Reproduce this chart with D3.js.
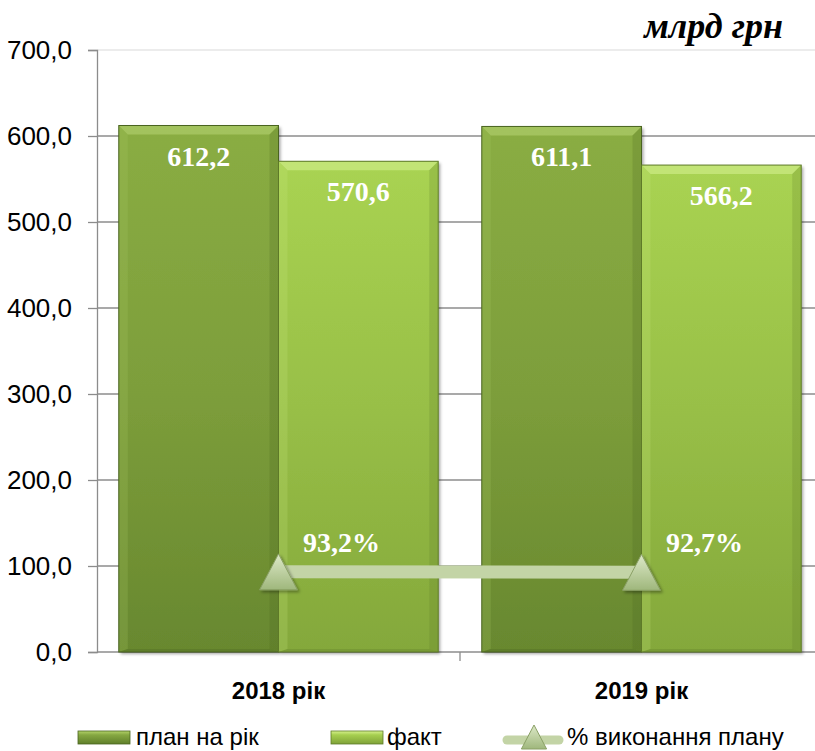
<!DOCTYPE html>
<html>
<head>
<meta charset="utf-8">
<script src="https://cdn.jsdelivr.net/npm/d3@7"></script>
<style>
  body { margin: 0; background: #fff; }
  svg { display: block; }
</style>
</head>
<body>
<svg id="chart" width="815" height="751"></svg>
<script>
// data
var years = ["2018 рік", "2019 рік"];
var planValues = [612.2, 611.1];
var factValues = [570.6, 566.2];
var pctValues = [93.2, 92.7];
var planLabels = ["612,2", "611,1"];
var factLabels = ["570,6", "566,2"];
var pctLabels = ["93,2%", "92,7%"];
var yTicks = [0, 100, 200, 300, 400, 500, 600, 700];
var seriesNames = ["план на рік", "факт", "% виконання плану"];

var svg = d3.select('#chart');
var plotLeft = 97, plotRight = 823, plotTop = 50, plotBottom = 652;

var x = d3.scaleBand().domain(years).range([plotLeft, plotRight]).paddingInner(0.12).paddingOuter(0.06);
var y = d3.scaleLinear().domain([0, 700]).range([plotBottom, plotTop]);
var sub = d3.scaleBand().domain(["plan", "fact"]).range([0, x.bandwidth()]);

var defs = svg.append('defs');
function grad(id, stops){
    var g = defs.append('linearGradient').attr('id', id)
        .attr('x1', 0).attr('y1', 0).attr('x2', 0).attr('y2', 1);
    stops.forEach(function(s){ g.append('stop').attr('offset', s[0]).attr('stop-color', s[1]); });
}
grad('gPlan', [[0, '#8aad43'], [0.5, '#7d9e3b'], [1, '#68882f']]);
grad('gFact', [[0, '#a9d352'], [0.5, '#98bf47'], [1, '#84a83b']]);
grad('gPlanLeg', [[0, '#b4d36a'], [0.3, '#86a842'], [1, '#5f7f2a']]);
grad('gFactLeg', [[0, '#d8f28f'], [0.3, '#a6cf50'], [1, '#7fa238']]);
grad('gTri', [[0, '#dde9c8'], [1, '#9fb77c']]);
var sh = defs.append('filter').attr('id', 'shadow').attr('x', '-10%').attr('y', '-10%').attr('width', '130%').attr('height', '130%');
sh.append('feDropShadow').attr('dx', 2).attr('dy', 2).attr('stdDeviation', 1.5).attr('flood-color', '#000').attr('flood-opacity', 0.35);

// grid
svg.append('g').selectAll('line').data(yTicks.slice(1)).enter().append('line')
    .attr('x1', plotLeft).attr('x2', 815)
    .attr('y1', function(d){ return y(d); }).attr('y2', function(d){ return y(d); })
    .attr('stroke', function(d){ return d == 700 ? '#e6e6e6' : '#8c8c8c'; })
    .attr('stroke-width', 1.3);

// y axis
var yAxis = svg.append('g').attr('transform', 'translate(' + plotLeft + ',0)')
    .call(d3.axisLeft(y).tickValues(yTicks).tickSize(9).tickPadding(16)
        .tickFormat(function(d){ return d3.format('.1f')(d).replace('.', ','); }));
yAxis.select('.domain').attr('stroke', '#8c8c8c').attr('stroke-width', 1.3);
yAxis.selectAll('.tick line').attr('stroke', '#8c8c8c').attr('stroke-width', 1.3);
yAxis.selectAll('text').style('font-family', 'Liberation Sans, Arial, sans-serif')
    .style('font-size', '26px').attr('fill', '#000');

// x axis baseline
svg.append('line').attr('x1', plotLeft).attr('x2', 815).attr('y1', plotBottom).attr('y2', plotBottom)
    .attr('stroke', '#8c8c8c').attr('stroke-width', 1.3);
var sep = x(years[1]) - x.step() * x.paddingInner() / 2;
svg.append('line').attr('x1', sep).attr('x2', sep)
    .attr('y1', plotBottom).attr('y2', plotBottom + 9).attr('stroke', '#8c8c8c').attr('stroke-width', 1.3);

// bars
function drawBars(vals, key, fill, light, dark){
    var g = svg.append('g').selectAll('g').data(vals).enter().append('g')
        .attr('transform', function(d, i){ return 'translate(' + (x(years[i]) + sub(key)) + ',0)'; });
    var w = sub.bandwidth();
    g.append('rect').attr('x', 0).attr('y', function(d){ return y(d); })
        .attr('width', w).attr('height', function(d){ return plotBottom - y(d); })
        .attr('fill', fill).attr('filter', 'url(#shadow)');
    // bevel edges
    g.append('path').attr('d', function(d){
        var t = y(d);
        return 'M0,' + t + 'L' + w + ',' + t + 'L' + (w - 9) + ',' + (t + 9) + 'L9,' + (t + 9) + 'Z';
    }).attr('fill', light).attr('opacity', 0.8);
    g.append('path').attr('d', function(d){
        var t = y(d);
        return 'M0,' + t + 'L9,' + (t + 9) + 'L9,' + (plotBottom - 3) + 'L0,' + plotBottom + 'Z';
    }).attr('fill', light).attr('opacity', 0.22);
    g.append('path').attr('d', function(d){
        var t = y(d);
        return 'M' + w + ',' + t + 'L' + (w - 9) + ',' + (t + 9) + 'L' + (w - 9) + ',' + (plotBottom - 3) + 'L' + w + ',' + plotBottom + 'Z';
    }).attr('fill', dark).attr('opacity', 0.22);
    g.append('path').attr('d', function(){
        return 'M0,' + plotBottom + 'L9,' + (plotBottom - 3) + 'L' + (w - 9) + ',' + (plotBottom - 3) + 'L' + w + ',' + plotBottom + 'Z';
    }).attr('fill', dark).attr('opacity', 0.3);
    g.append('rect').attr('x', 0).attr('y', function(d){ return y(d); })
        .attr('width', w).attr('height', function(d){ return plotBottom - y(d); })
        .attr('fill', 'none').attr('stroke', dark).attr('stroke-width', 1);
}
drawBars(planValues, 'plan', 'url(#gPlan)', '#a9c865', '#4a6420');
drawBars(factValues, 'fact', 'url(#gFact)', '#c8e87f', '#5e7a28');

// bar labels
function barLabels(vals, labels, key){
    svg.append('g').selectAll('text').data(vals).enter().append('text')
        .attr('x', function(d, i){ return x(years[i]) + sub(key) + sub.bandwidth() / 2; })
        .attr('y', function(d){ return y(d) + 40; })
        .attr('text-anchor', 'middle')
        .style('font-family', 'Liberation Serif, Times New Roman, serif')
        .style('font-weight', 'bold').style('font-size', '28px').attr('fill', '#fff')
        .text(function(d, i){ return labels[i]; });
}
barLabels(planValues, planLabels, 'plan');
barLabels(factValues, factLabels, 'fact');

// percent line
function px(i){ return x(years[i]) + sub.bandwidth(); }
svg.append('path').datum(pctValues)
    .attr('d', d3.line().x(function(d, i){ return px(i); }).y(function(d){ return y(d); }))
    .attr('stroke', '#c3d4a6').attr('stroke-width', 13).attr('fill', 'none');
function tri(cx, cy, s){
    return 'M' + cx + ',' + (cy - s) + 'L' + (cx + s * 1.05) + ',' + (cy + s) + 'L' + (cx - s * 1.05) + ',' + (cy + s) + 'Z';
}
svg.append('g').selectAll('path').data(pctValues).enter().append('path')
    .attr('d', function(d, i){ return tri(px(i), y(d), 18); })
    .attr('fill', 'url(#gTri)').attr('stroke', '#8aa066').attr('stroke-width', 1)
    .attr('filter', 'url(#shadow)');
svg.append('g').selectAll('text').data(pctValues).enter().append('text')
    .attr('x', function(d, i){ return px(i) + 63; })
    .attr('y', function(d){ return y(d) - 20; })
    .attr('text-anchor', 'middle')
    .style('font-family', 'Liberation Serif, Times New Roman, serif')
    .style('font-weight', 'bold').style('font-size', '28px').attr('fill', '#fff')
    .text(function(d, i){ return pctLabels[i]; });

// category labels
svg.append('g').selectAll('text').data(years).enter().append('text')
    .attr('x', function(d){ return x(d) + x.bandwidth() / 2; })
    .attr('y', 699)
    .attr('text-anchor', 'middle')
    .style('font-family', 'Liberation Sans, Arial, sans-serif')
    .style('font-weight', 'bold').style('font-size', '24px')
    .text(function(d){ return d; });

// unit title
svg.append('text').attr('x', 783).attr('y', 38).attr('text-anchor', 'end')
    .style('font-family', 'Liberation Serif, Times New Roman, serif')
    .style('font-weight', 'bold').style('font-style', 'italic').style('font-size', '36px')
    .text('млрд грн');

// legend
var lg = svg.append('g').style('font-family', 'Liberation Sans, Arial, sans-serif').style('font-size', '24px');
lg.append('rect').attr('x', 78).attr('y', 731).attr('width', 52).attr('height', 13).attr('fill', 'url(#gPlanLeg)').attr('stroke', '#4a6420').attr('stroke-width', 0.8);
lg.append('rect').attr('x', 331).attr('y', 731).attr('width', 52).attr('height', 13).attr('fill', 'url(#gFactLeg)').attr('stroke', '#5e7a28').attr('stroke-width', 0.8);
lg.append('line').attr('x1', 507).attr('x2', 559).attr('y1', 740).attr('y2', 740)
    .attr('stroke', '#c3d4a6').attr('stroke-width', 9).attr('stroke-linecap', 'round');
lg.append('path').attr('d', tri(534, 737, 12)).attr('fill', 'url(#gTri)').attr('stroke', '#8aa066');
var legTextX = [136, 387, 567];
lg.selectAll('text.leg').data(seriesNames).enter().append('text')
    .attr('x', function(d, i){ return legTextX[i]; })
    .attr('y', 745)
    .text(function(d){ return d; });
</script>
</body>
</html>
